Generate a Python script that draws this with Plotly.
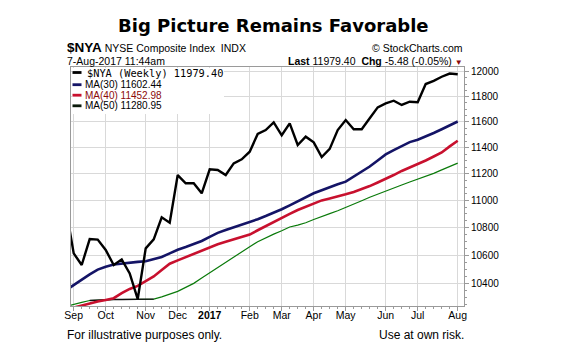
import pandas as pd
import plotly.graph_objects as go

# Weekly bars (Monday-dated), NYSE Composite Index
weeks = pd.date_range("2016-08-29", periods=50, freq="7D")

nya_close = [10950, 10613, 10530, 10716, 10712, 10637, 10530, 10570, 10470, 10290,
             10649, 10714, 10875, 10835, 11190, 11128, 11128, 11053, 11234, 11228,
             11190, 11279, 11310, 11368, 11505, 11536, 11596, 11495, 11588, 11420,
             11484, 11440, 11327, 11390, 11536, 11614, 11542, 11542, 11628, 11714,
             11746, 11767, 11733, 11759, 11754, 11900, 11926, 11959, 11984.88, 11979.40]

ma30 = [10351, 10389, 10427, 10463, 10497, 10518, 10533, 10541, 10548, 10552,
        10557, 10570, 10587, 10613, 10639, 10659, 10680, 10702, 10732, 10761,
        10782, 10801, 10819, 10839, 10861, 10884, 10907, 10934, 10963, 10994,
        11024, 11053, 11076, 11100, 11120, 11140, 11177, 11215, 11255, 11301,
        11347, 11380, 11411, 11442, 11460, 11485, 11513, 11542, 11572, 11602.44]

ma40 = [10217, 10232, 10246, 10260, 10273, 10284, 10296, 10331, 10361, 10382,
        10413, 10449, 10494, 10539, 10563, 10586, 10608, 10631, 10655, 10678,
        10696, 10712, 10728, 10749, 10780, 10811, 10842, 10872, 10900, 10929,
        10954, 10978, 11000, 11014, 11028, 11045, 11063, 11083, 11107, 11134,
        11160, 11190, 11221, 11246, 11272, 11301, 11331, 11362, 11409, 11452.98]

ma50 = [10238, 10255, 10267, 10280, 10284, 10286, 10287, 10287, 10288, 10288,
        10289, 10290, 10305, 10322, 10344, 10372, 10400, 10437, 10475, 10512,
        10549, 10586, 10623, 10661, 10697, 10727, 10752, 10777, 10804, 10818,
        10835, 10859, 10883, 10902, 10923, 10946, 10971, 10997, 11023, 11047,
        11072, 11094, 11115, 11138, 11159, 11181, 11203, 11229, 11255, 11280.95]

month_ticks = ["2016-09-05", "2016-10-03", "2016-11-07", "2016-12-05", "2017-01-02",
               "2017-02-06", "2017-03-06", "2017-04-03", "2017-05-01", "2017-06-05",
               "2017-07-03", "2017-08-07"]
month_labels = ["Sep", "Oct", "Nov", "Dec", "<b>2017</b>", "Feb", "Mar", "Apr",
                "May", "Jun", "Jul", "Aug"]
price_ticks = [10400, 10600, 10800, 11000, 11200, 11400, 11600, 11800, 12000]
price_minor = list(range(10250, 12050, 50))

# plot-area geometry in pixels
W, H = 571, 349
L, R, T, B = 71, 464, 67, 306


def px(x):
    return (x - L) / (R - L)


def py(y):
    return (B - y) / (B - T)


NAVY = "#141466"
RED = "#c8102e"
GREEN = "#0a7a0a"
SANS = "Liberation Sans"

fig = go.Figure()
fig.add_trace(go.Scatter(x=weeks, y=ma50, mode="lines",
                         line=dict(color=GREEN, width=1.2), hoverinfo="skip"))
# flat early stretch of MA(50) rendered dark
fig.add_trace(go.Scatter(x=weeks[3:12], y=ma50[3:12], mode="lines",
                         line=dict(color="#111111", width=1.3), hoverinfo="skip"))
fig.add_trace(go.Scatter(x=weeks, y=ma40, mode="lines",
                         line=dict(color=RED, width=2.6), hoverinfo="skip"))
fig.add_trace(go.Scatter(x=weeks, y=ma30, mode="lines",
                         line=dict(color=NAVY, width=2.6), hoverinfo="skip"))
fig.add_trace(go.Scatter(x=weeks, y=nya_close, mode="lines",
                         line=dict(color="black", width=2.4), hoverinfo="skip"))

last = nya_close[-1]
chg = last - nya_close[-2]
pct = chg / nya_close[-2] * 100

shapes = [
    # legend backdrop
    dict(type="rect", xref="paper", yref="paper", x0=px(L + 1), x1=px(224),
         y0=py(114), y1=py(T + 1), fillcolor="white", line=dict(width=0),
         layer="above"),
]
legend_rows = [
    (72.5, "black", "#000000", f"$NYA (Weekly) {last:.2f}", "DejaVu Sans Mono", 10.3, 85),
    (84.7, NAVY, "#000000", f"MA(30) {ma30[-1]:.2f}", SANS, 10, 82.5),
    (95.2, RED, "#8b0a0a", f"MA(40) {ma40[-1]:.2f}", SANS, 10, 82.5),
    (105.8, "#0b1a0b", "#000000", f"MA(50) {ma50[-1]:.2f}", SANS, 10, 82.5),
]
annotations = []
for yy, lc, tc, txt, fam, fs, tx in legend_rows:
    shapes.append(dict(type="line", xref="paper", yref="paper",
                       x0=px(72.5), x1=px(81.5), y0=py(yy), y1=py(yy),
                       line=dict(color=lc, width=2.8), layer="above"))
    annotations.append(dict(xref="paper", yref="paper", x=px(tx), y=py(yy),
                            text=txt, showarrow=False, xanchor="left",
                            yanchor="middle", font=dict(family=fam, size=fs, color=tc)))


def label(x, y, text, anchor="left", size=10.5, family=SANS, color="black"):
    annotations.append(dict(xref="paper", yref="paper", x=px(x), y=py(y),
                            text=text, showarrow=False, xanchor=anchor,
                            yanchor="middle",
                            font=dict(family=family, size=size, color=color)))


label(273, 25, "<b>Big Picture Remains Favorable</b>", anchor="center",
      size=18, family="DejaVu Sans")
label(65, 47.5, "<b><span style='font-size:13.5px'>$NYA</span></b> NYSE Composite Index  INDX",
      size=10.5)
label(465, 47.5, "© StockCharts.com", anchor="right", size=10.5)
label(65, 60.5, "7-Aug-2017 11:44am", size=10.5)
label(465, 60.5,
      f"<b>Last</b> {last:.2f}  <b>Chg</b> {chg:.2f} ({pct:.2f}%) "
      f"<span style='color:#8b0a0a;font-size:8px'>▼</span>",
      anchor="right", size=10.5)
label(65, 335, "For illustrative purposes only.", size=12)
label(466, 335, "Use at own risk.", anchor="right", size=12)

fig.update_layout(
    width=W, height=H,
    margin=dict(l=L, r=W - R, t=T, b=H - B, pad=0),
    paper_bgcolor="white", plot_bgcolor="white",
    showlegend=False,
    shapes=shapes, annotations=annotations,
    xaxis=dict(
        type="date",
        range=["2016-09-02 15:00", "2017-08-12 12:00"],
        tickmode="array", tickvals=month_ticks, ticktext=month_labels,
        ticks="outside", ticklen=4, tickcolor="#9a9a9a",
        ticklabelstandoff=-5,
        tickfont=dict(family=SANS, size=10.5, color="black"),
        showgrid=True, gridcolor="#d9d9d9", gridwidth=1,
        showline=True, linecolor="#9a9a9a", linewidth=1, mirror=True,
        minor=dict(tickmode="array", tickvals=list(weeks), ticks="outside",
                   ticklen=2, tickcolor="#9a9a9a", showgrid=False),
        zeroline=False,
    ),
    yaxis=dict(
        type="log", side="right",
        range=[4.010385, 4.080554],
        tickmode="array", tickvals=price_ticks,
        ticktext=[str(v) for v in price_ticks],
        ticks="outside", ticklen=4, tickcolor="#9a9a9a",
        tickfont=dict(family=SANS, size=10, color="black"),
        showgrid=True, gridcolor="#d9d9d9", gridwidth=1,
        showline=True, linecolor="#9a9a9a", linewidth=1, mirror=True,
        minor=dict(tickmode="array", tickvals=price_minor, ticks="outside",
                   ticklen=2, tickcolor="#9a9a9a", showgrid=False),
        zeroline=False,
    ),
)

fig.write_html("out.html")
